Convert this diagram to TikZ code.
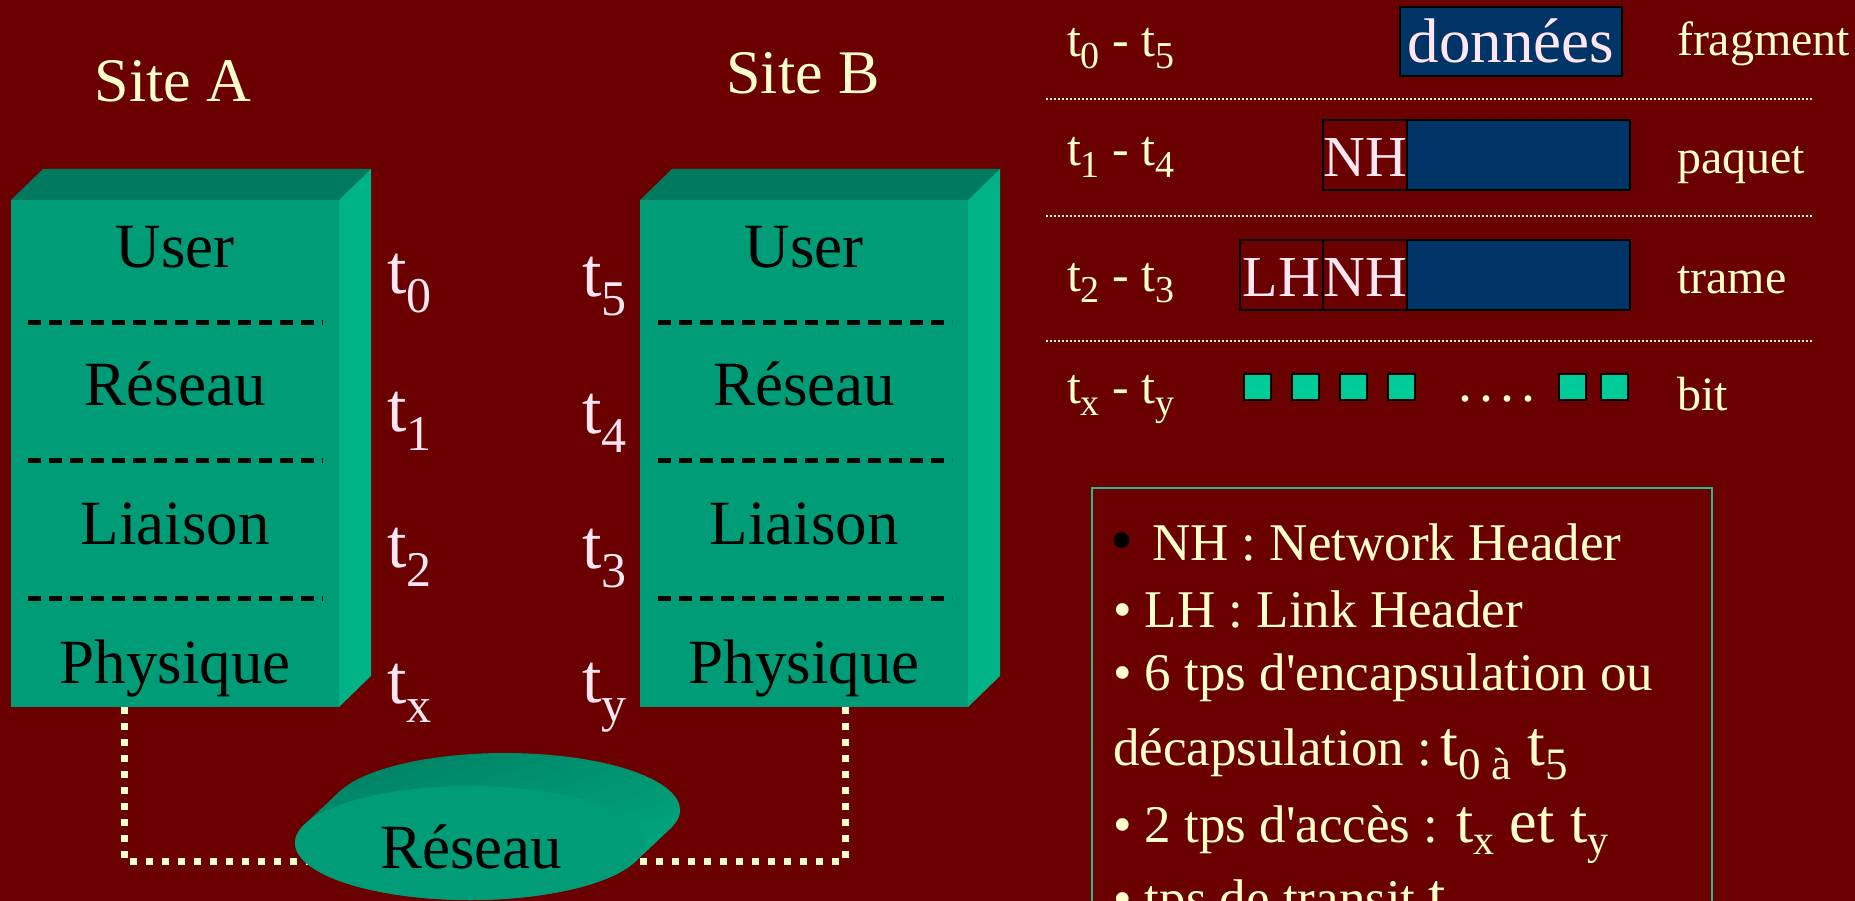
\documentclass[tikz,border=0pt]{standalone}
\usepackage{fontspec}
\setmainfont{Liberation Serif}
\usetikzlibrary{calc,shapes.geometric,shadings}
\definecolor{bg}{HTML}{6B0000}
\definecolor{frontc}{HTML}{009B77}
\definecolor{topc}{HTML}{007A5E}
\definecolor{sidec}{HTML}{00B386}
\definecolor{navy}{HTML}{003366}
\definecolor{bitc}{HTML}{00CC99}
\definecolor{cream}{HTML}{FFFFCC}
\definecolor{pinkw}{HTML}{FFE6F2}
\definecolor{legb}{HTML}{2EB592}
\newcommand{\Sub}[3]{\raisebox{-#2pt}{\fontsize{#1}{#1}\selectfont #3}}
\pgfdeclarelayer{bgl}
\pgfdeclarelayer{back}
\pgfsetlayers{bgl,back,main}
\begin{document}
\begin{tikzpicture}[x=1pt,y=-1pt,
  every node/.style={inner sep=0pt, outer sep=0pt},
  front/.style={fill=frontc, minimum width=328pt, minimum height=507pt, anchor=north west},
  sepline/.style={line width=5pt, dash pattern=on 13pt off 8pt, black},
  layer/.style={anchor=base, font=\fontsize{63}{63}\selectfont, text=black},
  tlab/.style={anchor=base west, font=\fontsize{70}{70}\selectfont, text=pinkw},
  site/.style={anchor=base, font=\fontsize{62}{62}\selectfont, text=cream},
  tt/.style={anchor=base west, font=\fontsize{50}{50}\selectfont, text=cream},
  rl/.style={anchor=base west, font=\fontsize{48}{48}\selectfont, text=cream},
  hdr/.style={draw=black, line width=2pt, text=pinkw, text depth=0pt, text height=44pt, font=\fontsize{58}{58}\selectfont, minimum height=70pt},
  bit/.style={draw=black, line width=2pt, fill=bitc, minimum width=27pt, minimum height=26pt},
  dotsep/.style={cream, line width=1.6pt, dash pattern=on 1.6pt off 2.4pt},
  leg/.style={anchor=base west, font=\fontsize{53}{53}\selectfont, text=cream},
  link/.style={cream, line width=7pt, dash pattern=on 7pt off 9pt}
]
\begin{pgfonlayer}{bgl}
\fill[bg] (0,0) rectangle (1855,901);
\end{pgfonlayer}
\useasboundingbox (0,0) rectangle (1855,901);
\clip (0,0) rectangle (1855,901);

% titles
\node[site] (sA) at (173,102) {Site A};
\node[site] (sB) at (803,94) {Site B};

% box A
\node[front] (A) at (11,200) {};
\fill[topc] (A.north west) -- ++(32,-31) -- ($(A.north east)+(32,-31)$) -- (A.north east) -- cycle;
\fill[sidec] (A.north east) -- ++(32,-31) -- ($(A.south east)+(32,-31)$) -- (A.south east) -- cycle;
\foreach \d in {122,260,398}
  \draw[sepline] ($(A.north west)+(17,\d)$) -- ($(A.north east)+(-16,\d)$);
\node[layer] (Au) at ($(A.north)+(0,68)$) {User};
\node[layer] (Ar) at ($(A.north)+(0,205)$) {Réseau};
\node[layer] (Al) at ($(A.north)+(0,344)$) {Liaison};
\node[layer] (Ap) at ($(A.north)+(0,483)$) {Physique};

% box B
\node[front] (B) at (640,200) {};
\fill[topc] (B.north west) -- ++(32,-31) -- ($(B.north east)+(32,-31)$) -- (B.north east) -- cycle;
\fill[sidec] (B.north east) -- ++(32,-31) -- ($(B.south east)+(32,-31)$) -- (B.south east) -- cycle;
\foreach \d in {122,260,398}
  \draw[sepline] ($(B.north west)+(18,\d)$) -- ($(B.north east)+(-16,\d)$);
\node[layer] (Bu) at ($(B.north)+(0,68)$) {User};
\node[layer] (Br) at ($(B.north)+(0,205)$) {Réseau};
\node[layer] (Bl) at ($(B.north)+(0,344)$) {Liaison};
\node[layer] (Bp) at ($(B.north)+(0,483)$) {Physique};

% time labels
\node[tlab] (t0) at (387,294) {t\Sub{50}{19}{0}};
\node[tlab] (t1) at (387,431) {t\Sub{50}{19}{1}};
\node[tlab] (t2) at (387,567) {t\Sub{50}{19}{2}};
\node[tlab] (tx) at (387,703) {t\Sub{50}{19}{x}};
\node[tlab] (t5) at (582,297) {t\Sub{50}{19}{5}};
\node[tlab] (t4) at (582,433) {t\Sub{50}{19}{4}};
\node[tlab] (t3) at (582,568) {t\Sub{50}{19}{3}};
\node[tlab] (ty) at (582,702) {t\Sub{50}{19}{y}};

% network
\coordinate (pa) at ($(A.south west)+(113,0)$);
\coordinate (pb) at ($(B.south west)+(205,0)$);
\shade[upper left=topc, upper right=topc!55!sidec, lower left=topc!45!sidec, lower right=sidec] (304.6,824.4) -- (339.6,791.4)
  arc[start angle=199.06, end angle=379.06, x radius=175, y radius=57] -- (635.4,861.6)
  arc[start angle=19.06, end angle=199.06, x radius=175, y radius=57] -- cycle;
\node[ellipse, fill=frontc, minimum width=350pt, minimum height=114pt] (net) at (470,843) {};
\node[layer] (netl) at (471,868) {Réseau};
\begin{pgfonlayer}{back}
\draw[link] (pa) |- ($(net.center)+(0,18)$);
\draw[link] (pb) |- ($(net.center)+(0,18)$);
\end{pgfonlayer}

% table
\node[tt] (r0) at (1067,57) {t\Sub{38}{12}{0} - t\Sub{38}{12}{5}};
\node[tt] (r1) at (1067,166) {t\Sub{38}{12}{1} - t\Sub{38}{12}{4}};
\node[tt] (r2) at (1067,291) {t\Sub{38}{12}{2} - t\Sub{38}{12}{3}};
\node[tt] (r3) at (1067,403) {t\Sub{38}{12}{x} - t\Sub{38}{12}{y}};
\draw[dotsep] (1046,99) -- (1813,99);
\draw[dotsep] (1046,216) -- (1813,216);
\draw[dotsep] (1046,341) -- (1813,341);

\node[hdr, fill=navy, minimum width=222pt, minimum height=69pt, text height=43pt, font=\fontsize{63}{63}\selectfont] (dat) at (1511,41.5) {données};
\node[hdr, fill=bg, minimum width=84pt] (nh1) at (1365,155) {NH};
\node[hdr, fill=navy, minimum width=223pt] (d1) at (1518.5,155) {};
\node[hdr, fill=bg, minimum width=83pt] (lh2) at (1281.5,275) {LH};
\node[hdr, fill=bg, minimum width=84pt] (nh2) at (1365,275) {NH};
\node[hdr, fill=navy, minimum width=223pt] (d2) at (1518.5,275) {};

\node[bit] (b1) at (1257.5,387) {};
\node[bit] (b2) at (1305.5,387) {};
\node[bit] (b3) at (1353.5,387) {};
\node[bit] (b4) at (1401.5,387) {};
\node[tt, font=\fontsize{56}{56}\selectfont] (dots) at (1458,401) {.\kern7pt.\kern7pt.\kern7pt.};
\node[bit] (b5) at (1572.5,387) {};
\node[bit] (b6) at (1614.5,387) {};

\node[rl] (lf) at (1677,56) {fragment};
\node[rl] (lp) at (1677,174) {paquet};
\node[rl] (lt) at (1677,294) {trame};
\node[rl] (lb) at (1677,410) {bit};

% legend
\draw[legb, line width=1.5pt] (1092,488) rectangle (1712,980);
\node[leg, text=black, font=\fontsize{66}{66}\selectfont] (l1b) at (1110,562) {•};
\node[leg] (l1) at (1152,560) {NH : Network Header};
\node[leg] (l2) at (1113,627) {• LH : Link Header};
\node[leg] (l3) at (1113,690) {• 6 tps d\textquotesingle encapsulation ou};
\node[leg] (l4) at (1113,765) {décapsulation :\kern8pt{\fontsize{64}{64}\selectfont t\Sub{45}{14}{0 à} t\Sub{45}{14}{5}}};
\node[leg] (l5) at (1113,842) {• 2 tps d\textquotesingle accès : {\fontsize{62}{62}\selectfont t\Sub{42}{12}{x} et t\Sub{42}{12}{y}}};
\node[leg] (l6) at (1113,916) {• tps de transit {\fontsize{62}{62}\selectfont t}};
\end{tikzpicture}
\end{document}
